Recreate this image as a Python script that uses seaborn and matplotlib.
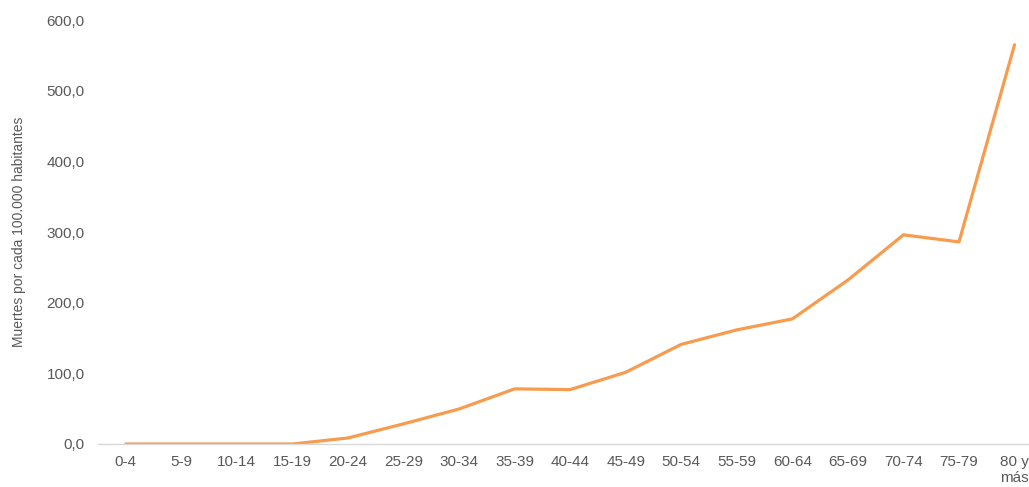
import matplotlib
matplotlib.use("Agg")
import matplotlib.pyplot as plt
import seaborn as sns
import pandas as pd
from matplotlib.ticker import FuncFormatter

grupos = ["0-4", "5-9", "10-14", "15-19", "20-24", "25-29", "30-34", "35-39",
          "40-44", "45-49", "50-54", "55-59", "60-64", "65-69", "70-74",
          "75-79", "80 y\nmás"]
tasas = [0.0, 0.0, 0.0, 0.0, 8.5, 28.5, 49.5, 78.0, 77.0, 101.5, 141.0,
         161.5, 177.0, 232.0, 296.0, 286.0, 565.0]

df = pd.DataFrame({"grupo": grupos, "tasa": tasas})

sns.set_style("white")
plt.rcParams["font.family"] = ["Liberation Sans", "DejaVu Sans"]

gris = "#595959"
fig = plt.figure(figsize=(10.29, 4.87), dpi=100)
ax = fig.add_axes([0.0952, 0.0883, 0.9048, 0.8706])

sns.lineplot(data=df, x="grupo", y="tasa", sort=False, color="#F79C4E",
             linewidth=2.3, ax=ax)

ax.set_ylim(0, 600)
ax.set_xlim(-0.5, 16.26)
ax.set_yticks(range(0, 601, 100))
ax.yaxis.set_major_formatter(FuncFormatter(lambda v, p: f"{v:.1f}".replace(".", ",")))
ax.set_ylabel("Muertes por cada 100.000 habitantes", color=gris, fontsize=10, labelpad=15)
ax.set_xlabel("")

for s in ["top", "right", "left"]:
    ax.spines[s].set_visible(False)
ax.spines["bottom"].set_color("#D9D9D9")
ax.spines["bottom"].set_linewidth(1.0)
ax.tick_params(axis="both", length=0, colors=gris, labelsize=11)
ax.tick_params(axis="x", pad=8)
ax.tick_params(axis="y", pad=9.5)
ax.grid(False)

fig.savefig("out.png", dpi=100)
